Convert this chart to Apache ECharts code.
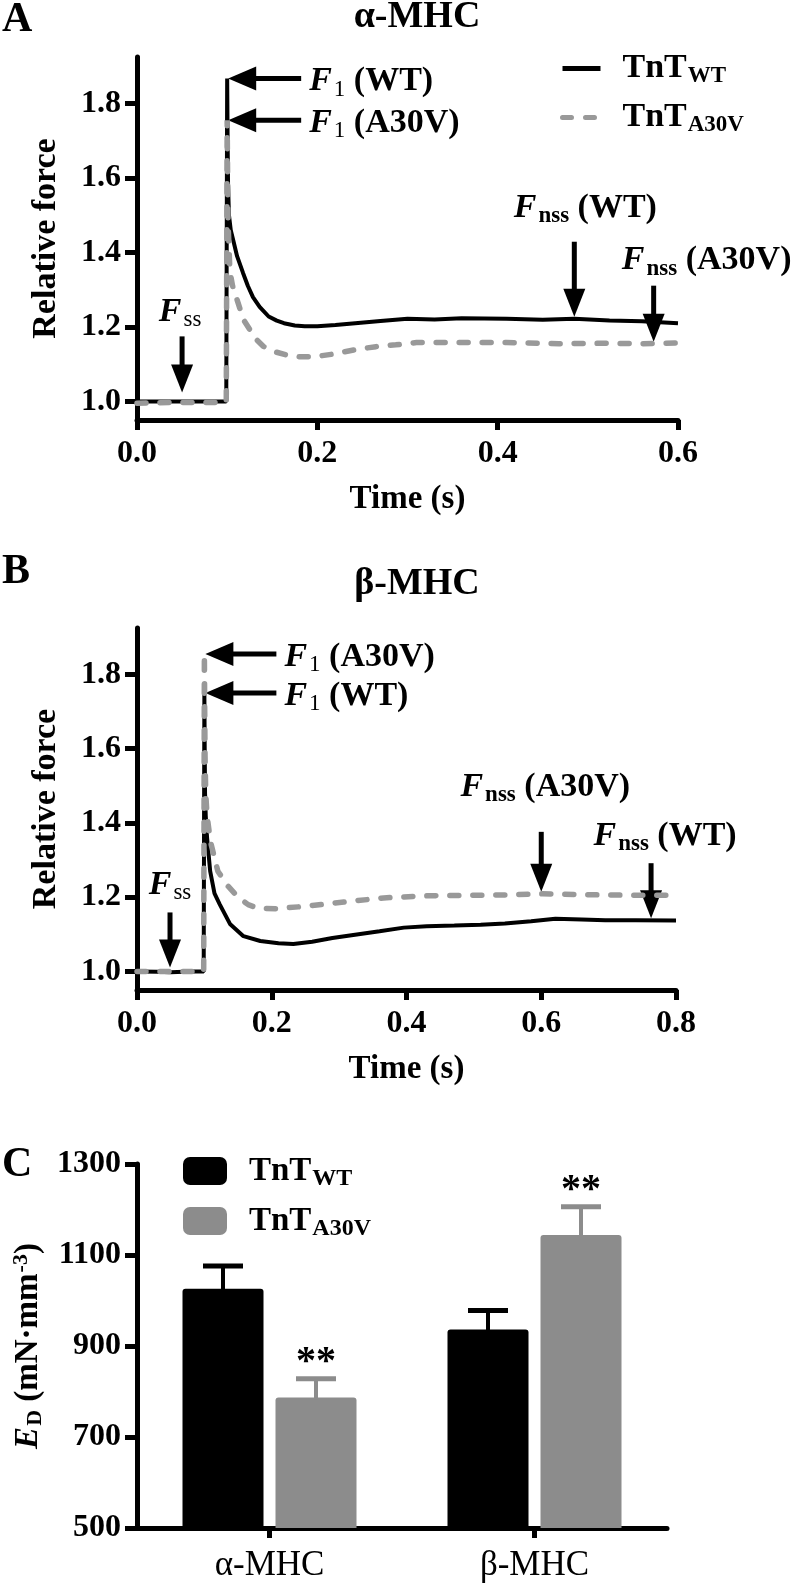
<!DOCTYPE html>
<html lang="en">
<head>
<meta charset="UTF-8">
<title>TnT A30V force transients</title>
<script src="https://cdn.jsdelivr.net/npm/echarts@6/dist/echarts.min.js"></script>
</head>
<body style="margin:0;background:#fff;">
<div id="chart" style="width:793px;height:1584px;"></div>
<script>
var SERIF = "'Liberation Serif', 'Times New Roman', serif";

// panel A, alpha-MHC: time (s) / relative force
var timeA_WT = [0, 0.02, 0.04, 0.06, 0.08, 0.099, 0.1, 0.1005, 0.101, 0.102, 0.104, 0.107, 0.111, 0.1176, 0.123, 0.1286, 0.136, 0.146, 0.155, 0.163, 0.175, 0.186, 0.2, 0.22, 0.242, 0.27, 0.3, 0.33, 0.36, 0.41, 0.45, 0.485, 0.524, 0.56, 0.6];
var forceA_WT = [1.0, 1.0, 1.0, 1.0, 1.0, 1.0, 1.867, 1.7, 1.58, 1.5, 1.46, 1.43, 1.39, 1.345, 1.31, 1.28, 1.254, 1.228, 1.217, 1.21, 1.204, 1.202, 1.202, 1.205, 1.21, 1.216, 1.222, 1.22, 1.223, 1.222, 1.219, 1.222, 1.217, 1.215, 1.21];
var timeA_A30V = [0, 0.02, 0.04, 0.06, 0.08, 0.099, 0.1, 0.1005, 0.101, 0.102, 0.103, 0.106, 0.111, 0.118, 0.125, 0.13, 0.14, 0.152, 0.165, 0.18, 0.197, 0.22, 0.242, 0.265, 0.287, 0.31, 0.35, 0.41, 0.468, 0.52, 0.56, 0.6];
var forceA_A30V = [0.995, 0.996, 0.997, 0.997, 0.997, 0.997, 1.755, 1.6, 1.48, 1.42, 1.35, 1.31, 1.273, 1.22, 1.193, 1.172, 1.148, 1.134, 1.125, 1.12, 1.12, 1.128, 1.139, 1.147, 1.152, 1.158, 1.158, 1.158, 1.155, 1.156, 1.155, 1.157];

// panel B, beta-MHC
var timeB_WT = [0, 0.03, 0.05, 0.08, 0.099, 0.1, 0.1005, 0.101, 0.102, 0.104, 0.1086, 0.115, 0.123, 0.138, 0.158, 0.183, 0.21, 0.232, 0.26, 0.29, 0.321, 0.36, 0.396, 0.43, 0.471, 0.51, 0.546, 0.585, 0.621, 0.66, 0.695, 0.74, 0.8];
var forceB_WT = [1.0, 0.999, 0.998, 1.0, 1.0, 1.75, 1.6, 1.48, 1.42, 1.36, 1.27, 1.21, 1.18, 1.128, 1.095, 1.082, 1.076, 1.074, 1.08, 1.09, 1.098, 1.108, 1.118, 1.122, 1.124, 1.126, 1.129, 1.135, 1.142, 1.14, 1.138, 1.138, 1.137];
var timeB_A30V = [0, 0.03, 0.05, 0.08, 0.099, 0.1, 0.1005, 0.101, 0.102, 0.104, 0.109, 0.12, 0.135, 0.15, 0.165, 0.18, 0.206, 0.247, 0.307, 0.366, 0.434, 0.49, 0.546, 0.602, 0.65, 0.695, 0.75, 0.8];
var forceB_A30V = [1.0, 1.0, 1.0, 1.0, 1.0, 1.855, 1.7, 1.58, 1.48, 1.42, 1.35, 1.27, 1.23, 1.2, 1.18, 1.17, 1.169, 1.175, 1.187, 1.198, 1.204, 1.205, 1.206, 1.209, 1.207, 1.206, 1.205, 1.205];

var forceTicks = [1.0, 1.2, 1.4, 1.6, 1.8];

// panel C, E_D (mN·mm^-3)
var mhcTypes = ['α-MHC', 'β-MHC'];
var edWT = [1026, 936];
var edWTsem = [50, 42];
var edA30V = [787, 1144];
var edA30Vsem = [41, 62];
var edA30Vsig = ['**', '**'];

var BAR_W = 81, BAR_GAP = 12;

function pairs(t, f) {
    return t.map(function (x, i) { return [x, f[i]]; });
}
function peak(f) {
    return Math.max.apply(null, f);
}
function nearest(times, forces, t) {
    var best = 0;
    for (var i = 1; i < times.length; i++) {
        if (Math.abs(times[i] - t) < Math.abs(times[best] - t)) best = i;
    }
    return forces[best];
}

var black = '#000';
var grey = '#999999';
var greyBar = '#8c8c8c';

function timeAxis(grid, max, gap) {
    return {
        gridIndex: grid, type: 'value', min: 0, max: max, interval: 0.2,
        axisLine: { show: true, onZero: false, lineStyle: { color: black, width: 5 } },
        axisTick: { show: true, length: 10, lineStyle: { color: black, width: 5 } },
        axisLabel: { formatter: function (v) { return v.toFixed(1); }, fontFamily: SERIF, fontSize: 32, fontWeight: 'bold', color: black, margin: 18 },
        splitLine: { show: false },
        name: 'Time (s)', nameLocation: 'middle', nameGap: gap,
        nameTextStyle: { fontFamily: SERIF, fontSize: 33, fontWeight: 'bold', color: black }
    };
}
function forceAxis(grid) {
    return {
        gridIndex: grid, type: 'value', min: 0.95, max: 1.925,
        axisLine: { show: true, onZero: false, lineStyle: { color: black, width: 5 } },
        axisTick: { show: true, length: 12, customValues: forceTicks, lineStyle: { color: black, width: 5 } },
        axisLabel: { customValues: forceTicks, formatter: function (v) { return v.toFixed(1); }, fontFamily: SERIF, fontSize: 32, fontWeight: 'bold', color: black, margin: 16 },
        splitLine: { show: false },
        name: 'Relative force', nameLocation: 'middle', nameGap: 74, nameRotate: 90,
        nameTextStyle: { fontFamily: SERIF, fontSize: 34, fontWeight: 'bold', color: black }
    };
}

function traceSeries(name, ax, t, f, dashed) {
    return {
        name: name, type: 'line', xAxisIndex: ax, yAxisIndex: ax,
        data: pairs(t, f), symbol: 'none', showSymbol: false, z: dashed ? 4 : 3,
        itemStyle: { color: dashed ? grey : black },
        lineStyle: dashed ? { color: grey, width: 5.5, type: [9, 14], cap: 'round' } : { color: black, width: 4 }
    };
}

function errorBars(offset, sem, sig) {
    return function (params, api) {
        var cat = api.value(0);
        var base = api.coord([cat, api.value(1)]);
        var top = api.coord([cat, api.value(1) + sem[params.dataIndex]]);
        var x = base[0] + offset;
        var color = api.visual('color');
        var kids = [
            { type: 'line', shape: { x1: x, y1: base[1] + 2, x2: x, y2: top[1] }, style: { stroke: color, lineWidth: 4 } },
            { type: 'line', shape: { x1: x - 20, y1: top[1], x2: x + 20, y2: top[1] }, style: { stroke: color, lineWidth: 5 } }
        ];
        if (sig) {
            kids.push({ type: 'text', x: x, y: top[1] - 16, style: { text: sig[params.dataIndex], fontFamily: SERIF, fontSize: 40, fontWeight: 'bold', fill: black, align: 'center', verticalAlign: 'middle' } });
        }
        return { type: 'group', children: kids };
    };
}

var legendNames = { TnT_WT: 'WT', TnT_A30V: 'A30V', bar_WT: 'WT', bar_A30V: 'A30V' };
function legendRich(fs, sub) {
    return {
        a: { fontFamily: SERIF, fontSize: fs, fontWeight: 'bold', color: black, lineHeight: 36, padding: [0, 0, 0, 17] },
        s: { fontFamily: SERIF, fontSize: sub, fontWeight: 'bold', color: black, lineHeight: 22, padding: [16, 0, 0, 1] }
    };
}

var option = {
    animation: false,
    backgroundColor: '#fff',
    grid: [
        { left: 137, top: 57, width: 541, height: 363, outerBoundsMode: 'none' },
        { left: 137, top: 628, width: 539, height: 362, outerBoundsMode: 'none' },
        { left: 137, top: 1164, width: 530, height: 364, outerBoundsMode: 'none' }
    ],
    legend: [
        {
            data: ['TnT_WT', 'TnT_A30V'], orient: 'vertical', left: 555, top: 44,
            itemWidth: 38, itemHeight: 14, itemGap: 10, selectedMode: false,
            itemStyle: { opacity: 0, borderWidth: 0 },
            lineStyle: { width: 5 },
            formatter: function (n) { return '{a|TnT}{s|' + legendNames[n] + '}'; },
            textStyle: { rich: legendRich(34, 23) }
        },
        {
            data: ['bar_WT', 'bar_A30V'], orient: 'vertical', left: 178, top: 1146,
            itemWidth: 44, itemHeight: 28, itemGap: 10, icon: 'roundRect', selectedMode: false,
            formatter: function (n) { return '{a|TnT}{s|' + legendNames[n] + '}'; },
            textStyle: { rich: legendRich(33, 24) }
        }
    ],
    xAxis: [
        timeAxis(0, 0.6, 63),
        timeAxis(1, 0.8, 63),
        {
            gridIndex: 2, type: 'category', data: mhcTypes,
            axisLine: { show: true, lineStyle: { color: black, width: 5 } },
            axisTick: { show: true, alignWithLabel: true, length: 10, lineStyle: { color: black, width: 5 } },
            axisLabel: { fontFamily: SERIF, fontSize: 35, color: black, margin: 20 }
        }
    ],
    yAxis: [
        forceAxis(0),
        forceAxis(1),
        {
            gridIndex: 2, type: 'value', min: 500, max: 1300, interval: 200,
            axisLine: { show: true, lineStyle: { color: black, width: 5 } },
            axisTick: { show: true, length: 12, lineStyle: { color: black, width: 5 } },
            axisLabel: { formatter: function (v) { return String(v); }, fontFamily: SERIF, fontSize: 32, fontWeight: 'bold', color: black, margin: 16 },
            splitLine: { show: false },
            name: '{e|E}{d|D}{t| (mN·mm}{p|-3}{t|)}', nameLocation: 'middle', nameGap: 88, nameRotate: 90,
            nameTextStyle: {
                rich: {
                    e: { fontFamily: SERIF, fontSize: 33, fontStyle: 'italic', fontWeight: 'bold', color: black },
                    d: { fontFamily: SERIF, fontSize: 22, fontWeight: 'bold', color: black, padding: [14, 0, 0, 1] },
                    t: { fontFamily: SERIF, fontSize: 33, fontWeight: 'bold', color: black },
                    p: { fontFamily: SERIF, fontSize: 22, fontWeight: 'bold', color: black, padding: [0, 0, 14, 1] }
                }
            }
        }
    ],
    series: [
        traceSeries('TnT_WT', 0, timeA_WT, forceA_WT, false),
        traceSeries('TnT_A30V', 0, timeA_A30V, forceA_A30V, true),
        traceSeries('TnT_WT', 1, timeB_WT, forceB_WT, false),
        traceSeries('TnT_A30V', 1, timeB_A30V, forceB_A30V, true),
        {
            name: 'bar_WT', type: 'bar', xAxisIndex: 2, yAxisIndex: 2, data: edWT,
            barWidth: BAR_W, barGap: (BAR_GAP / BAR_W * 100) + '%',
            itemStyle: { color: black, borderRadius: [3, 3, 0, 0] }
        },
        {
            name: 'bar_A30V', type: 'bar', xAxisIndex: 2, yAxisIndex: 2, data: edA30V,
            barWidth: BAR_W,
            itemStyle: { color: greyBar, borderRadius: [3, 3, 0, 0] }
        },
        {
            name: 'semWT', type: 'custom', xAxisIndex: 2, yAxisIndex: 2, z: 5,
            itemStyle: { color: black },
            renderItem: errorBars(-(BAR_W + BAR_GAP) / 2, edWTsem, null),
            data: edWT.map(function (v, i) { return [i, v]; })
        },
        {
            name: 'semA30V', type: 'custom', xAxisIndex: 2, yAxisIndex: 2, z: 5,
            itemStyle: { color: greyBar },
            renderItem: errorBars((BAR_W + BAR_GAP) / 2, edA30Vsem, edA30Vsig),
            data: edA30V.map(function (v, i) { return [i, v]; })
        }
    ]
};

var chart = echarts.init(document.getElementById('chart'));
chart.setOption(option);

// annotation arrows, anchored on the traces through the chart's own scales
var richG = {
    f: { fontFamily: SERIF, fontSize: 34, fontStyle: 'italic', fontWeight: 'bold', fill: black },
    n: { fontFamily: SERIF, fontSize: 23, fontWeight: 'normal', fill: black, padding: [16, 0, 0, 2] },
    b: { fontFamily: SERIF, fontSize: 23, fontWeight: 'bold', fill: black, padding: [16, 0, 0, 2] },
    t: { fontFamily: SERIF, fontSize: 34, fontWeight: 'bold', fill: black }
};
var notes = [
    { s: 0, dir: 'left', t: 0.1, f: peak(forceA_WT), len: 73, text: '{f|F}{n|1}{t| (WT)}' },
    { s: 0, dir: 'left', t: 0.1, f: peak(forceA_A30V), len: 73, text: '{f|F}{n|1}{t| (A30V)}' },
    { s: 0, dir: 'down', t: 0.05, f: 1.0, gap: 9, len: 56, dx: -2, dy: 80, text: '{f|F}{n|ss}' },
    { s: 0, dir: 'down', t: 0.485, f: nearest(timeA_WT, forceA_WT, 0.485), gap: 2, len: 75, dx: 11, dy: 109, text: '{f|F}{b|nss}{t| (WT)}' },
    { s: 0, dir: 'down', t: 0.573, f: nearest(timeA_A30V, forceA_A30V, 0.573), gap: 2, len: 56, dx: 53, dy: 81, text: '{f|F}{b|nss}{t| (A30V)}' },
    { s: 2, dir: 'left', t: 0.1, f: peak(forceB_A30V), len: 71, text: '{f|F}{n|1}{t| (A30V)}' },
    { s: 2, dir: 'left', t: 0.1, f: peak(forceB_WT), len: 71, text: '{f|F}{n|1}{t| (WT)}' },
    { s: 2, dir: 'down', t: 0.049, f: 1.0, gap: 4, len: 55, dx: 0, dy: 82, text: '{f|F}{n|ss}' },
    { s: 2, dir: 'down', t: 0.6, f: nearest(timeB_A30V, forceB_A30V, 0.6), gap: 2, len: 60, dx: 4, dy: 105, text: '{f|F}{b|nss}{t| (A30V)}' },
    { s: 2, dir: 'down', t: 0.763, f: nearest(timeB_WT, forceB_WT, 0.763), gap: 2, len: 55, dx: 14, dy: 82, text: '{f|F}{b|nss}{t| (WT)}' }
];

var gfx = [];
notes.forEach(function (a) {
    var p = chart.convertToPixel({ seriesIndex: a.s }, [a.t, a.f]);
    var x = p[0], y = p[1];
    if (a.dir === 'left') {
        var tx = x + 1;
        gfx.push({ type: 'polygon', shape: { points: [[tx, y], [tx + 28, y - 12], [tx + 28, y + 12]] }, style: { fill: black } });
        gfx.push({ type: 'line', shape: { x1: tx + 26, y1: y, x2: tx + a.len, y2: y }, style: { stroke: black, lineWidth: 5 } });
        gfx.push({ type: 'text', x: tx + a.len + 8, y: y + 3, style: { text: a.text, rich: richG, align: 'left', verticalAlign: 'middle' } });
    } else {
        var ty = y - a.gap;
        gfx.push({ type: 'polygon', shape: { points: [[x, ty], [x - 11, ty - 28], [x + 11, ty - 28]] }, style: { fill: black } });
        gfx.push({ type: 'line', shape: { x1: x, y1: ty - 26, x2: x, y2: ty - a.len }, style: { stroke: black, lineWidth: 5 } });
        gfx.push({ type: 'text', x: x + a.dx, y: ty - a.dy, style: { text: a.text, rich: richG, align: 'center', verticalAlign: 'middle' } });
    }
});

// panel letters and titles
[['A', 20], ['B', 572], ['C', 1165]].forEach(function (l) {
    gfx.push({ type: 'text', x: 2, y: l[1], style: { text: l[0], fontFamily: SERIF, fontSize: 42, fontWeight: 'bold', fill: black, align: 'left', verticalAlign: 'middle' } });
});
[['α-MHC', 17], ['β-MHC', 584]].forEach(function (l) {
    gfx.push({ type: 'text', x: 417, y: l[1], style: { text: l[0], fontFamily: SERIF, fontSize: 38, fontWeight: 'bold', fill: black, align: 'center', verticalAlign: 'middle' } });
});

chart.setOption({ graphic: gfx });
</script>
</body>
</html>
